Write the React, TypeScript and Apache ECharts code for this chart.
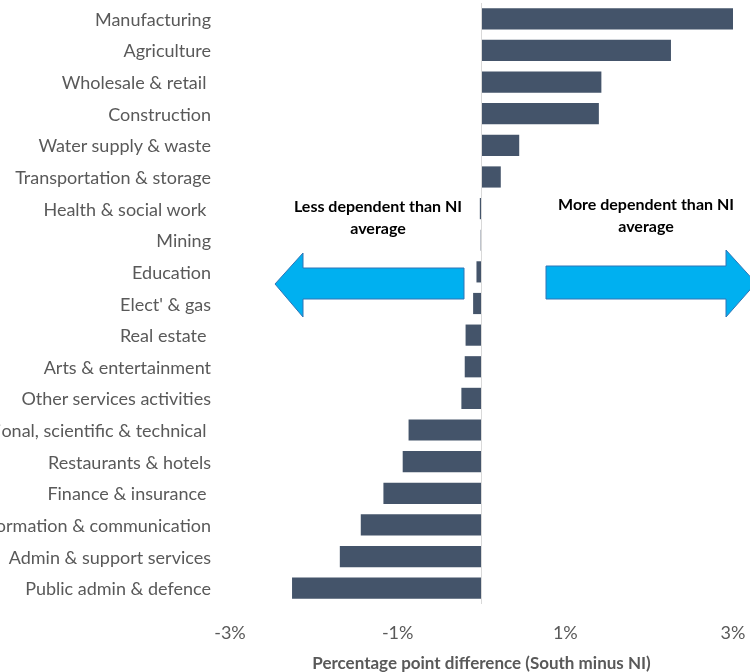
import React, { useEffect, useRef } from "react";
import * as echarts from "echarts";

const categories = [
  "Manufacturing",
  "Agriculture",
  "Wholesale & retail ",
  "Construction",
  "Water supply & waste",
  "Transportation & storage",
  "Health & social work ",
  "Mining",
  "Education",
  "Elect' & gas",
  "Real estate ",
  "Arts & entertainment",
  "Other services activities",
  "Professional, scientific & technical ",
  "Restaurants & hotels",
  "Finance & insurance ",
  "Information & communication",
  "Admin & support services",
  "Public admin & defence",
];

const values = [
  3.02, 2.26, 1.43, 1.4, 0.45, 0.23, -0.02, -0.01, -0.06, -0.1, -0.19, -0.2,
  -0.24, -0.87, -0.94, -1.17, -1.44, -1.69, -2.26,
];

const xTicks = { min: -3, max: 3, interval: 2 };
const axisTitle = "Percentage point difference (South minus NI)";
const leftNote = "Less dependent than NI\naverage";
const rightNote = "More dependent than NI\naverage";

export default function App() {
  const ref = useRef<HTMLDivElement>(null);
  useEffect(() => {
    const chart = echarts.init(ref.current!, undefined, { renderer: "svg" });
    const font = "Lato, 'Open Sans', sans-serif";
    const arrowStyle = { fill: "#00B0F0", stroke: "#2E75B6", lineWidth: 1 };
    chart.setOption({
      animation: false,
      textStyle: { fontFamily: font },
      grid: {
        left: 230,
        right: 17,
        top: 3,
        bottom: 68,
        containLabel: false,
        outerBoundsMode: "none",
      },
      xAxis: {
        type: "value",
        min: xTicks.min,
        max: xTicks.max,
        interval: xTicks.interval,
        splitLine: { show: false },
        axisLine: { show: false },
        axisTick: { show: false },
        axisLabel: {
          formatter: (v: number) => `${v}%`,
          color: "#595959",
          fontSize: 18,
          margin: 19,
          fontFamily: font,
        },
        name: axisTitle,
        nameLocation: "middle",
        nameGap: 50,
        nameTextStyle: {
          color: "#595959",
          fontSize: 17,
          fontWeight: "bold",
          fontFamily: font,
        },
      },
      yAxis: {
        type: "category",
        data: categories,
        inverse: true,
        axisLine: { show: false },
        axisTick: { show: false },
        axisLabel: {
          color: "#595959",
          fontSize: 18,
          margin: 19,
          fontFamily: font,
        },
      },
      series: [
        {
          type: "bar",
          data: values,
          barWidth: "67%",
          itemStyle: { color: "#44546A" },
          markLine: {
            silent: true,
            symbol: "none",
            label: { show: false },
            lineStyle: { color: "#D9D9D9", width: 1, type: "solid" },
            data: [{ xAxis: 0 }],
          },
        },
      ],
      graphic: [
        {
          type: "polygon",
          shape: {
            points: [
              [275, 284],
              [303, 253],
              [303, 268],
              [464, 268],
              [464, 299],
              [303, 299],
              [303, 317],
            ],
          },
          style: arrowStyle,
        },
        {
          type: "polygon",
          shape: {
            points: [
              [756, 283],
              [726, 250],
              [726, 266],
              [546, 266],
              [546, 299],
              [726, 299],
              [726, 317],
            ],
          },
          style: arrowStyle,
        },
        {
          type: "text",
          x: 378,
          y: 216,
          style: {
            text: leftNote,
            fill: "#000000",
            font: `bold 16px ${font}`,
            align: "center",
            verticalAlign: "middle",
            lineHeight: 22,
          },
        },
        {
          type: "text",
          x: 646,
          y: 214,
          style: {
            text: rightNote,
            fill: "#000000",
            font: `bold 16px ${font}`,
            align: "center",
            verticalAlign: "middle",
            lineHeight: 22,
          },
        },
      ],
    });
    return () => chart.dispose();
  }, []);
  return (
    <div
      ref={ref}
      style={{ position: "fixed", left: 0, top: 0, width: 750, height: 672 }}
    />
  );
}
